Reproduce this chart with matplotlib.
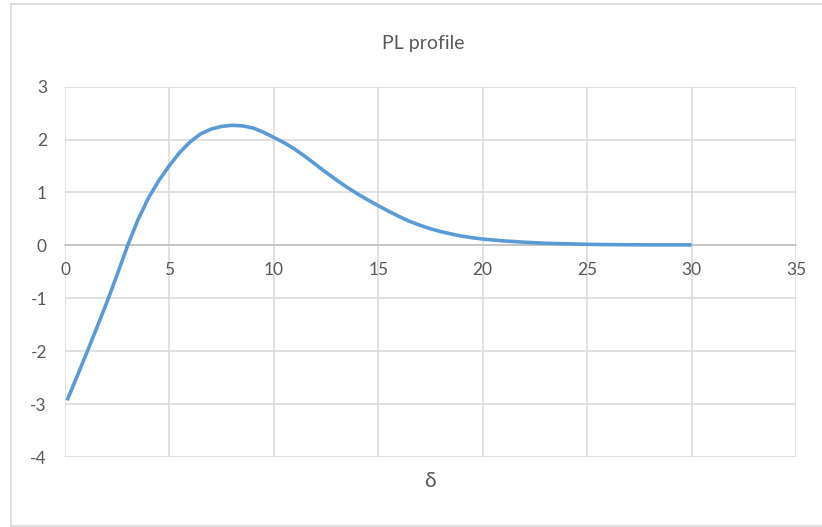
import matplotlib
matplotlib.use('Agg')
import matplotlib.pyplot as plt
from matplotlib.lines import Line2D

plt.rcParams['axes.unicode_minus'] = False

# values
delta = [0.1, 0.5, 1, 1.5, 2, 2.5, 3, 3.5, 4, 4.5, 5, 5.5, 6, 6.5, 7, 7.5, 8, 8.5, 9, 9.5,
         10, 10.5, 11, 11.5, 12, 12.5, 13, 13.5, 14, 14.5, 15, 15.5, 16, 16.5, 17, 17.5,
         18, 18.5, 19, 19.5, 20, 21, 22, 23, 24, 25, 26, 27, 28, 29, 30]
pl = [-2.93, -2.55, -2.07, -1.58, -1.08, -0.55, 0.0, 0.49, 0.9, 1.23, 1.51, 1.76, 1.96,
      2.11, 2.2, 2.25, 2.27, 2.26, 2.22, 2.14,
      2.04, 1.94, 1.82, 1.68, 1.53, 1.38, 1.235, 1.1, 0.975, 0.86, 0.75, 0.645, 0.545, 0.455,
      0.38, 0.315, 0.26, 0.215, 0.175, 0.145, 0.12, 0.085, 0.06, 0.04, 0.03, 0.02, 0.015,
      0.012, 0.01, 0.01, 0.01]
xticks = [0, 5, 10, 15, 20, 25, 30, 35]
yticks = [-4, -3, -2, -1, 0, 1, 2, 3]

fonts = ['Lato', 'DejaVu Sans']
txt = '#595959'
grid = '#d9d9d9'

W, H = 822, 527
fig = plt.figure(figsize=(W / 100, H / 100), dpi=100)
ax = fig.add_axes([65 / W, 1 - 457 / H, (796 - 65) / W, (457 - 86.7) / H])

ax.plot(delta, pl, color='#5b9bd5', lw=2.6, solid_capstyle='butt',
        solid_joinstyle='round', zorder=3)

ax.set_xlim(0, 35)
ax.set_ylim(-4, 3)
ax.set_xticks(xticks)
ax.set_yticks(yticks)
ax.grid(True, color=grid, lw=1.1, zorder=0)
for s in ['top', 'right', 'left']:
    ax.spines[s].set_visible(False)
ax.spines['bottom'].set_position(('data', 0))
ax.spines['bottom'].set_color('#bfbfbf')
ax.spines['bottom'].set_linewidth(1.1)
ax.spines['bottom'].set_zorder(2)
ax.tick_params(axis='both', length=0, labelcolor=txt, labelsize=12.5)
ax.tick_params(axis='x', pad=12)
ax.tick_params(axis='y', pad=13)
for lab in ax.get_xticklabels() + ax.get_yticklabels():
    lab.set_family(fonts)

fig.text(423 / W, 1 - 43 / H, 'PL profile', ha='center', va='center',
         fontsize=14, color=txt, family=fonts)
fig.text(430 / W, 1 - 481 / H, 'δ', ha='center', va='center',
         fontsize=15, color=txt, family=fonts)

# chart area border
bc = '#d9d9d9'
fig.add_artist(Line2D([10.5 / W, 1], [1 - 3.5 / H, 1 - 3.5 / H], transform=fig.transFigure, color=bc, lw=1.2))
fig.add_artist(Line2D([10.5 / W, 10.5 / W], [1 - 3.5 / H, 1 - 526 / H], transform=fig.transFigure, color=bc, lw=1.2))
fig.add_artist(Line2D([10.5 / W, 1], [1 - 526 / H, 1 - 526 / H], transform=fig.transFigure, color=bc, lw=1.2))

fig.savefig('out.png', dpi=100)
